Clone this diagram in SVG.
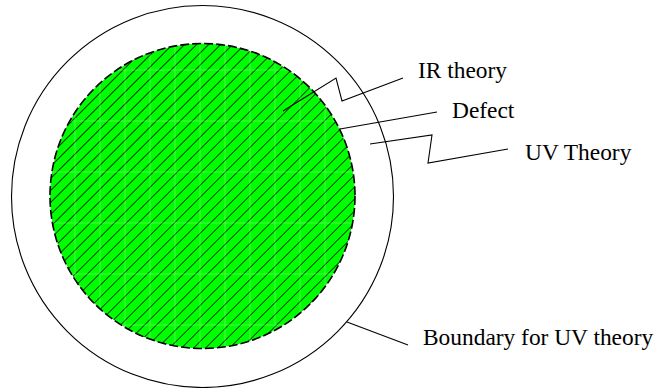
<svg xmlns="http://www.w3.org/2000/svg" width="655" height="388" viewBox="0 0 655 388">
<style>
.lead{fill:none;stroke:#000;stroke-width:1.1}
.lbl{font-family:"Liberation Serif","Times New Roman",serif;font-size:23.4px;fill:#000}
.grid{stroke:#b0ffb0;stroke-width:1;opacity:0.4}
</style>
<defs>
<pattern id="hatch" patternUnits="userSpaceOnUse" width="8.5" height="8.5" patternTransform="rotate(45)">
<rect width="8.5" height="8.5" fill="#00ff00"/>
<line x1="0" y1="0" x2="0" y2="8.5" stroke="#000" stroke-width="1.5"/>
</pattern>
<clipPath id="inner"><circle cx="202.5" cy="196" r="152.5"/></clipPath>
</defs>
<g id="outer">
<circle cx="202.5" cy="196.5" r="191" fill="none" stroke="#000" stroke-width="1.1"/>
</g>
<g id="ir-region">
<circle cx="202.5" cy="196" r="152.5" fill="url(#hatch)"/>
<g clip-path="url(#inner)" class="grid">
<line x1="75" y1="0" x2="75" y2="388"/>
<line x1="100" y1="0" x2="100" y2="388"/>
<line x1="125" y1="0" x2="125" y2="388"/>
<line x1="150" y1="0" x2="150" y2="388"/>
<line x1="175" y1="0" x2="175" y2="388"/>
<line x1="200" y1="0" x2="200" y2="388"/>
<line x1="225" y1="0" x2="225" y2="388"/>
<line x1="250" y1="0" x2="250" y2="388"/>
<line x1="275" y1="0" x2="275" y2="388"/>
<line x1="300" y1="0" x2="300" y2="388"/>
<line x1="325" y1="0" x2="325" y2="388"/>
<line x1="0" y1="70" x2="400" y2="70"/>
<line x1="0" y1="121" x2="400" y2="121"/>
<line x1="0" y1="172" x2="400" y2="172"/>
<line x1="0" y1="223" x2="400" y2="223"/>
<line x1="0" y1="274" x2="400" y2="274"/>
<line x1="0" y1="325" x2="400" y2="325"/>
</g>
</g>
<g id="defect">
<circle cx="202.5" cy="196" r="152.5" fill="none" stroke="#000" stroke-width="1.6" stroke-dasharray="9 3"/>
</g>
<g id="connectors">
<polyline class="lead" points="283,111 336,78 342,101 403,78"/>
<line class="lead" x1="340" y1="129" x2="437" y2="112"/>
<polyline class="lead" points="370,144 432,135 428,163 508,149"/>
<line class="lead" x1="347" y1="322" x2="408" y2="345"/>
</g>
<g id="label-ir"><text class="lbl" x="418" y="78">IR theory</text></g>
<g id="label-defect"><text class="lbl" x="452" y="118">Defect</text></g>
<g id="label-uv"><text class="lbl" x="525" y="160">UV Theory</text></g>
<g id="label-boundary"><text class="lbl" x="423" y="345">Boundary for UV theory</text></g>
</svg>
